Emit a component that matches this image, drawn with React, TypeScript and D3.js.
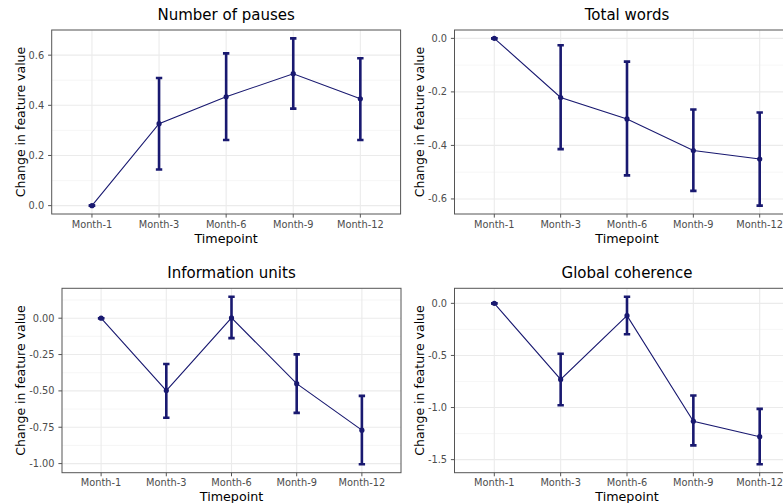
import React from "react";
import * as d3 from "d3";

const categories = ["Month-1", "Month-3", "Month-6", "Month-9", "Month-12"];

const titles = ["Number of pauses", "Total words", "Information units", "Global coherence"];

const pausesMean = [0, 0.327, 0.434, 0.526, 0.426];
const pausesLower = [0, 0.144, 0.262, 0.387, 0.262];
const pausesUpper = [0, 0.509, 0.607, 0.667, 0.588];

const wordsMean = [0, -0.221, -0.301, -0.419, -0.451];
const wordsLower = [0, -0.414, -0.512, -0.57, -0.625];
const wordsUpper = [0, -0.026, -0.087, -0.266, -0.277];

const unitsMean = [0, -0.498, 0.002, -0.45, -0.77];
const unitsLower = [0, -0.685, -0.137, -0.651, -1.005];
const unitsUpper = [0, -0.315, 0.148, -0.249, -0.534];

const coherenceMean = [0, -0.73, -0.118, -1.131, -1.28];
const coherenceLower = [0, -0.978, -0.296, -1.363, -1.545];
const coherenceUpper = [0, -0.484, 0.064, -0.885, -1.013];

const pausesTicks = [0, 0.2, 0.4, 0.6];
const wordsTicks = [0, -0.2, -0.4, -0.6];
const unitsTicks = [0, -0.25, -0.5, -0.75, -1.0];
const coherenceTicks = [0, -0.5, -1.0, -1.5];

const tickFormats = [".1f", ".1f", ".2f", ".1f"];

const panelsData = [
  { mean: pausesMean, lower: pausesLower, upper: pausesUpper, ticks: pausesTicks },
  { mean: wordsMean, lower: wordsLower, upper: wordsUpper, ticks: wordsTicks },
  { mean: unitsMean, lower: unitsLower, upper: unitsUpper, ticks: unitsTicks },
  { mean: coherenceMean, lower: coherenceLower, upper: coherenceUpper, ticks: coherenceTicks },
];

// layout rectangles (pixels)
const rects = [
  { x0: 51.7, x1: 400.6, y0: 30, y1: 214, ylabX: 20 },
  { x0: 454.5, x1: 799.5, y0: 30, y1: 214, ylabX: 419.3 },
  { x0: 62, x1: 401, y0: 288.3, y1: 472.7, ylabX: 20 },
  { x0: 454.5, x1: 799.5, y0: 288.3, y1: 472.7, ylabX: 419.3 },
];

const COLOR = "#191970";
const FONT = "DejaVu Sans, sans-serif";

function Panel({ idx }: { idx: number }) {
  const d = panelsData[idx];
  const r = rects[idx];
  const title = titles[idx];
  const lo = Math.min(...d.lower, ...d.mean);
  const hi = Math.max(...d.upper, ...d.mean);
  const pad = (hi - lo) * 0.05;
  const y = d3.scaleLinear().domain([lo - pad, hi + pad]).range([r.y1, r.y0]);
  const x = d3.scalePoint<string>().domain(categories).range([r.x0, r.x1]).padding(0.6);
  const fmt = d3.format(tickFormats[idx]);
  const ticks = d.ticks;
  const step = Math.abs(ticks[1] - ticks[0]);
  const minor: number[] = [];
  const tmin = Math.min(...ticks);
  const tmax = Math.max(...ticks);
  for (let v = tmin - step / 2; v <= tmax + step / 2 + 1e-9; v += step) {
    const yy = y(v);
    if (yy >= r.y0 && yy <= r.y1) minor.push(v);
  }
  const line = d3
    .line<number>()
    .x((_, i) => x(categories[i]) as number)
    .y((v) => y(v));
  const cx = (r.x0 + r.x1) / 2;
  const cy = (r.y0 + r.y1) / 2;
  const capHalf = 3.2;
  return (
    <g>
      <defs>
        <clipPath id={`clip${idx}`}>
          <rect x={r.x0} y={r.y0} width={r.x1 - r.x0} height={r.y1 - r.y0} />
        </clipPath>
      </defs>
      <rect x={r.x0} y={r.y0} width={r.x1 - r.x0} height={r.y1 - r.y0} fill="white" />
      {minor.map((v, i) => (
        <line key={"mn" + i} x1={r.x0} x2={r.x1} y1={y(v)} y2={y(v)} stroke="#F2F2F2" strokeWidth={0.7} />
      ))}
      {ticks.map((v, i) => (
        <line key={"mj" + i} x1={r.x0} x2={r.x1} y1={y(v)} y2={y(v)} stroke="#EBEBEB" strokeWidth={1.1} />
      ))}
      {categories.map((c) => (
        <line key={"vx" + c} x1={x(c)} x2={x(c)} y1={r.y0} y2={r.y1} stroke="#EBEBEB" strokeWidth={1.1} />
      ))}
      <g clipPath={`url(#clip${idx})`}>
        <path d={line(d.mean) || ""} fill="none" stroke={COLOR} strokeWidth={1.1} />
        {categories.map((c, i) => {
          const xx = x(c) as number;
          return (
            <g key={"eb" + c}>
              <line x1={xx} x2={xx} y1={y(d.lower[i])} y2={y(d.upper[i])} stroke={COLOR} strokeWidth={2.6} />
              <line x1={xx - capHalf} x2={xx + capHalf} y1={y(d.lower[i])} y2={y(d.lower[i])} stroke={COLOR} strokeWidth={2.6} />
              <line x1={xx - capHalf} x2={xx + capHalf} y1={y(d.upper[i])} y2={y(d.upper[i])} stroke={COLOR} strokeWidth={2.6} />
              <circle cx={xx} cy={y(d.mean[i])} r={2.6} fill={COLOR} />
            </g>
          );
        })}
      </g>
      <rect x={r.x0} y={r.y0} width={r.x1 - r.x0} height={r.y1 - r.y0} fill="none" stroke="#555555" strokeWidth={1} />
      {ticks.map((v, i) => (
        <g key={"yt" + i}>
          <line x1={r.x0 - 3.6} x2={r.x0} y1={y(v)} y2={y(v)} stroke="#555555" strokeWidth={1} />
          <text x={r.x0 - 7.5} y={y(v)} dy="0.35em" textAnchor="end" fontSize={9.8} fill="#4D4D4D" fontFamily={FONT}>
            {fmt(v).replace("−", "-")}
          </text>
        </g>
      ))}
      {categories.map((c) => (
        <g key={"xt" + c}>
          <line x1={x(c)} x2={x(c)} y1={r.y1} y2={r.y1 + 3.6} stroke="#555555" strokeWidth={1} />
          <text x={x(c)} y={r.y1 + 13.5} textAnchor="middle" fontSize={9.8} fill="#4D4D4D" fontFamily={FONT}>
            {c}
          </text>
        </g>
      ))}
      <text x={cx} y={r.y1 + 28.5} textAnchor="middle" fontSize={12.7} fill="black" fontFamily={FONT}>
        Timepoint
      </text>
      <text
        transform={`translate(${r.ylabX + 4.5},${cy}) rotate(-90)`}
        textAnchor="middle"
        fontSize={12.5}
        fill="black"
        fontFamily={FONT}
      >
        Change in feature value
      </text>
      <text x={cx} y={r.y0 - 10.5} textAnchor="middle" fontSize={15} fill="black" fontFamily={FONT}>
        {title}
      </text>
    </g>
  );
}

export default function App() {
  return (
    <svg
      width={783}
      height={503}
      style={{ position: "fixed", left: 0, top: 0, background: "white" }}
    >
      <rect x={0} y={0} width={783} height={503} fill="white" />
      {panelsData.map((_, i) => (
        <Panel key={i} idx={i} />
      ))}
    </svg>
  );
}
